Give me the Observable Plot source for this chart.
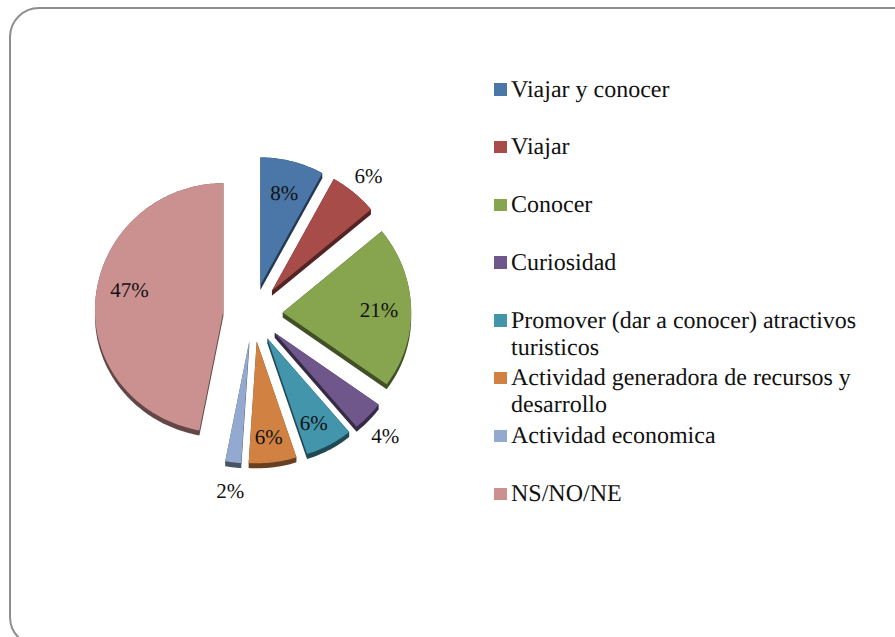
<!DOCTYPE html>
<html lang="es">
<head>
<meta charset="utf-8">
<script src="https://cdn.jsdelivr.net/npm/d3@7"></script>
<script src="https://cdn.jsdelivr.net/npm/@observablehq/plot@0.6"></script>
<style>
  html, body { margin: 0; padding: 0; width: 895px; height: 637px; overflow: hidden; background: #fff; text-rendering: geometricPrecision; }
  #frame { position: absolute; left: 9px; top: 7px; width: 1000px; height: 640px; box-sizing: border-box;
           border: 2px solid #8e8e8e; border-radius: 30px; }
  #chart { position: absolute; left: 0; top: 0; }
  #legend { position: absolute; left: 494px; top: 76.5px; margin: 0; padding: 0; list-style: none;
            font: 24px/27px "Liberation Serif", serif; color: #111; }
  #legend li { height: 57.8px; display: flex; align-items: flex-start; }
  #legend i { flex: none; width: 12.5px; height: 12.5px; margin: 6.5px 4.5px 0 0; }
  #legend span { width: 355px; }
</style>
</head>
<body>
<div id="frame"></div>
<div id="chart"></div>
<ul id="legend"></ul>
<script>
const categories = ["Viajar y conocer", "Viajar", "Conocer", "Curiosidad",
  "Promover (dar a conocer) atractivos turisticos",
  "Actividad generadora de recursos y desarrollo",
  "Actividad economica", "NS/NO/NE"];
const percents = [8, 6, 21, 4, 6, 6, 2, 47];
const colors = ["#4a76a8", "#a84c4a", "#87a44f", "#6f578c", "#4295ab", "#d18242", "#93a9cf", "#cb9090"];
const labelOutside = [false, true, false, true, false, false, true, false];
const labelTurn = [0, 0, 0, 0, 0, 0, 0, 0.13];

// Pie layout, in units of the pie radius
const explode = 0.231, topStretch = 1.02, bottomStretch = 0.975, labelBottomStretch = 1.02, depth = 0.04;
const innerReach = 0.75, outerReach = 1.18;
const project = (angle, r, ox, oy, lower = bottomStretch) => {
  const c = Math.cos(angle);
  return [ox + r * Math.sin(angle), oy - r * c * (c > 0 ? topStretch : lower)];
};

const arcs = d3.pie().sort(null).value(d => d)(percents);
const faces = [], sides = [], labels = [];
arcs.forEach((a, i) => {
  const mid = (a.startAngle + a.endAngle) / 2;
  const [ox, oy] = project(mid, explode, 0, 0);
  const pts = [[ox, oy]];
  const steps = Math.ceil((a.endAngle - a.startAngle) / 0.02);
  for (let s = 0; s <= steps; ++s) {
    pts.push(project(a.startAngle + (a.endAngle - a.startAngle) * s / steps, 1, ox, oy));
  }
  pts.forEach(([x, y]) => faces.push({x, y, category: categories[i]}));
  const hull = d3.polygonHull(pts.concat(pts.map(([x, y]) => [x, y + depth])));
  const dark = d3.color(colors[i]).darker(2).formatHex();
  hull.forEach(([x, y]) => sides.push({x, y, key: categories[i], dark}));
  const [lx, ly] = project(mid + labelTurn[i], labelOutside[i] ? outerReach : innerReach, ox, oy, labelBottomStretch);
  labels.push({x: lx, y: ly, text: percents[i] + "%"});
});

const plot = Plot.plot({
  width: 895, height: 637,
  margin: 0,
  style: {background: "transparent", overflow: "visible"},
  x: {domain: [-1, 1], range: [252.5 - 128.5, 252.5 + 128.5], axis: null},
  y: {domain: [-1, 1], range: [313 - 125, 313 + 125], axis: null},
  color: {type: "ordinal", domain: categories, range: colors},
  marks: [
    Plot.line(sides, {x: "x", y: "y", z: "key", fill: {value: "dark", scale: null}, stroke: "none", curve: "linear-closed"}),
    Plot.line(faces, {x: "x", y: "y", z: "category", fill: "category", stroke: "none", curve: "linear-closed"}),
    Plot.text(labels, {x: "x", y: "y", dy: 1, text: "text", fontSize: 21, fontFamily: "Liberation Serif", fill: "#111"})
  ]
});
document.getElementById("chart").append(plot);

const legend = d3.select("#legend").selectAll("li").data(categories).join("li");
legend.append("i").style("background", (d, i) => colors[i]);
legend.append("span").text(d => d);
</script>
</body>
</html>
